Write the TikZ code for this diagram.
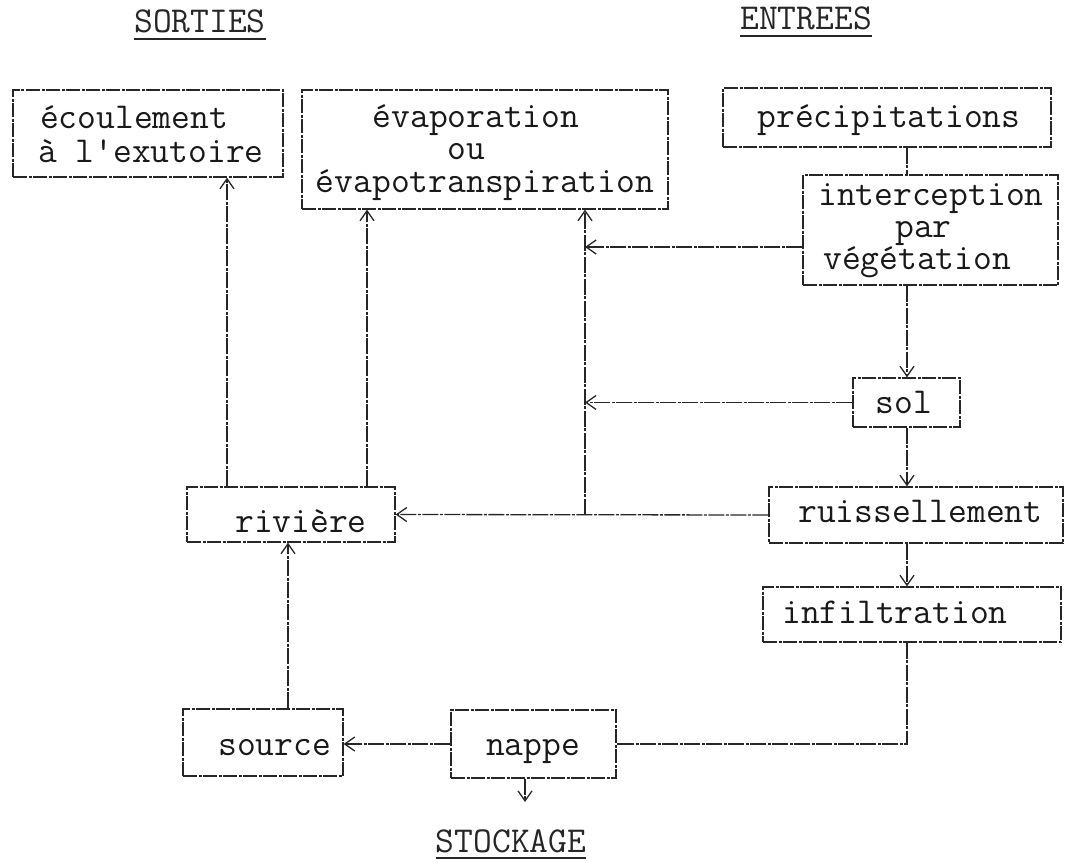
\documentclass[tikz,border=0pt]{standalone}
\usepackage{fontspec}
\usetikzlibrary{arrows.meta,calc}
\tikzset{
  box/.style={draw=black!85, line width=1.3pt, dash pattern=on 14pt off 1.5pt on 3pt off 1.5pt, inner sep=0pt},
  lbl/.style={inner sep=0pt, font=\ttfamily\fontsize{36.5}{38}\selectfont, text=black!90},
  ttl/.style={inner sep=0pt, font=\ttfamily\fontsize{36.5}{38}\selectfont, text=black!85},
  ln/.style={draw=black!85, line width=1.3pt, dash pattern=on 16pt off 1.5pt on 3pt off 1.5pt},
  arr/.style={ln, -{Straight Barb[length=10pt,width=14pt,line width=1.3pt]}},
  uline/.style={draw=black!85, line width=1.8pt}
}
\begin{document}
\begin{tikzpicture}[x=1pt,y=-1pt]
\useasboundingbox (0,0) rectangle (1065,867);
% titles
\node[ttl, anchor=base] (sortT) at (200,33) {SORTIES};
\node[ttl, anchor=base] (entT) at (806,30) {ENTREES};
\node[ttl, anchor=base] (stkT) at (511,852) {STOCKAGE};
\draw[uline] ($(sortT.base west)+(0,6)$) -- ($(sortT.base east)+(0,6)$);
\draw[uline] ($(entT.base west)+(0,6)$) -- ($(entT.base east)+(0,6)$);
\draw[uline] ($(stkT.base west)+(0,6)$) -- ($(stkT.base east)+(0,6)$);
% boxes
\node[box, minimum width=270, minimum height=87] (ecoul) at (148,133.5) {};
\node[box, minimum width=366, minimum height=119] (evap) at (485,149.5) {};
\node[box, minimum width=328, minimum height=59] (prec) at (887,117.5) {};
\node[box, minimum width=255, minimum height=110] (interc) at (930.5,230) {};
\node[box, minimum width=107, minimum height=49] (sol) at (906.5,402.5) {};
\node[box, minimum width=294, minimum height=56] (ruiss) at (916,515) {};
\node[box, minimum width=208, minimum height=55] (riv) at (291,514.5) {};
\node[box, minimum width=298, minimum height=55] (infil) at (912,614.5) {};
\node[box, minimum width=160, minimum height=67] (source) at (263,742.5) {};
\node[box, minimum width=165, minimum height=68] (nappe) at (533.5,744) {};
% texts
\node[lbl, anchor=base west] (t1) at (40,128) {écoulement};
\node[lbl, anchor=base west] (t2) at (38,162) {à l'exutoire};
\node[lbl, anchor=base] (t3) at (476,127) {évaporation};
\node[lbl, anchor=base] (t4) at (466,159) {ou};
\node[lbl, anchor=base] (t5) at (485,192) {évapotranspiration};
\node[lbl, anchor=base] (t6) at (889,127) {précipitations};
\node[lbl, anchor=base west] (t7) at (818,205) {interception};
\node[lbl, anchor=base west] (t8) at (895,237) {par};
\node[lbl, anchor=base west] (t9) at (823,269) {végétation};
\node[lbl, anchor=base] (t10) at (904,413) {sol};
\node[lbl, anchor=base west] (t11) at (798,522) {ruissellement};
\node[lbl, anchor=base west] (t12) at (235,532) {rivière};
\node[lbl, anchor=base west] (t13) at (782,623) {infiltration};
\node[lbl, anchor=base west] (t14) at (218,755) {source};
\node[lbl, anchor=base] (t15) at (533,755) {nappe};
% helper coordinates
\coordinate (cx) at (907,0);
\coordinate (c1) at (227,0);
\coordinate (c2) at (367,0);
\coordinate (c3) at (288,0);
\coordinate (j) at (585,514.5);
\coordinate (iw) at ($(interc.west)+(0,17)$);
\coordinate (stk) at (525,802);
% connectors (right column)
\draw[ln] (prec.south -| cx) -- (interc.north -| cx);
\draw[arr] (interc.south -| cx) -- (sol.north -| cx);
\draw[arr] (sol.south -| cx) -- (ruiss.north -| cx);
\draw[arr] (ruiss.south -| cx) -- (infil.north -| cx);
\draw[ln] (infil.south -| cx) |- (nappe.east);
% bottom
\draw[arr] (nappe.west) -- (nappe.west -| source.east);
\draw[arr] (nappe.south -| stk) -- (stk);
\draw[arr] (source.north -| c3) -- (riv.south -| c3);
% towards outputs
\draw[arr] (riv.north -| c1) -- (ecoul.south -| c1);
\draw[arr] (riv.north -| c2) -- (evap.south -| c2);
\draw[arr] (ruiss.west) -- (riv.east);
\draw[arr] (j) -- (j |- evap.south);
\draw[arr] (iw) -- (iw -| j);
\draw[arr] (sol.west) -- (sol.west -| j);
\end{tikzpicture}
\end{document}
